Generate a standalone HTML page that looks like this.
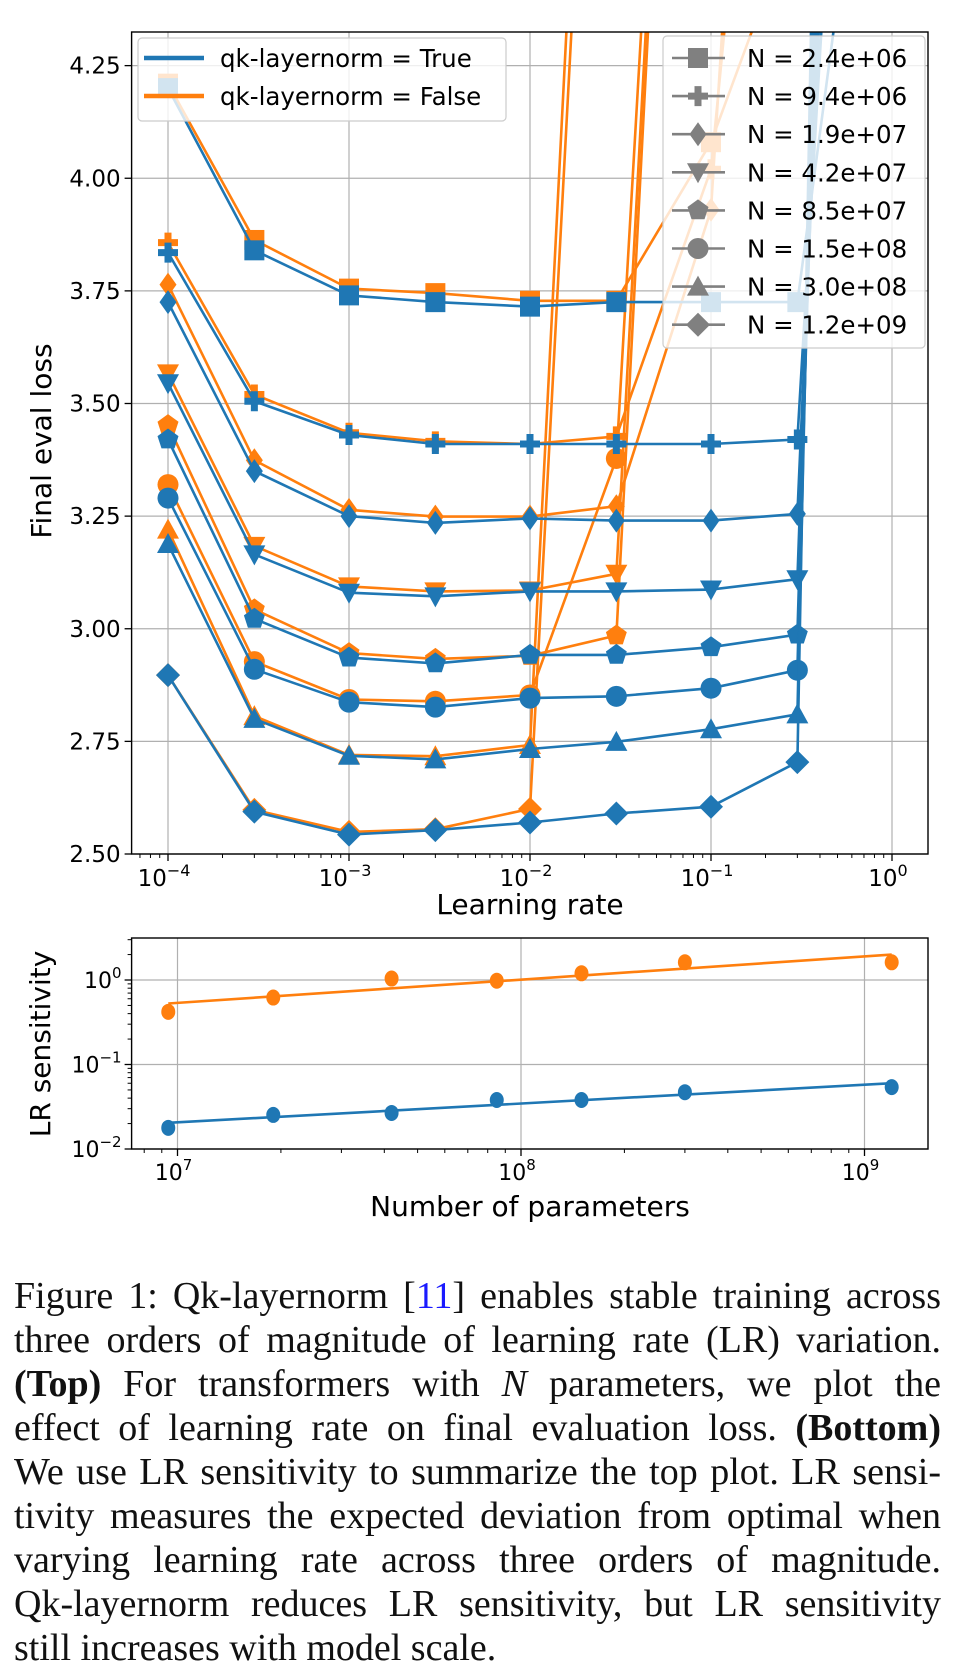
<!DOCTYPE html>
<html><head><meta charset="utf-8">
<style>
html,body{margin:0;padding:0;background:#fff;}
body{width:962px;height:1671px;position:relative;overflow:hidden;}
svg{position:absolute;left:0;top:0;}
.cap{position:absolute;left:14px;width:927px;font-family:"Liberation Serif",serif;font-size:38px;color:#111;line-height:44px;}
.cap div{text-align:justify;text-align-last:justify;white-space:nowrap;height:44px;}
.cap div.last{text-align-last:left;}
</style></head><body>
<svg id="chart" width="962" height="1671" font-family="DejaVu Sans, Liberation Sans, sans-serif"></svg>
<div class="cap" style="top:1274px">
<div>Figure 1: Qk-layernorm [<span style="color:#1a1aff">11</span>] enables stable training across</div>
<div>three orders of magnitude of learning rate (LR) variation.</div>
<div><b>(Top)</b> For transformers with <i>N</i> parameters, we plot the</div>
<div>effect of learning rate on final evaluation loss. <b>(Bottom)</b></div>
<div>We use LR sensitivity to summarize the top plot. LR sensi-</div>
<div>tivity measures the expected deviation from optimal when</div>
<div>varying learning rate across three orders of magnitude.</div>
<div>Qk-layernorm reduces LR sensitivity, but LR sensitivity</div>
<div class="last">still increases with model scale.</div>
</div>
<script>
// ---- top chart data ----
const lrs = [1e-4, 3e-4, 1e-3, 3e-3, 1e-2, 3e-2, 1e-1, 3e-1, 1];
const nLabels = ["N = 2.4e+06","N = 9.4e+06","N = 1.9e+07","N = 4.2e+07","N = 8.5e+07","N = 1.5e+08","N = 3.0e+08","N = 1.2e+09"];
const markers = ["square","plus","thindiamond","tridown","pentagon","circle","triup","diamond"];
const lossTrue = [
 [4.20,3.84,3.74,3.725,3.715,3.725,3.725,3.725,5.3],
 [3.835,3.505,3.43,3.41,3.41,3.41,3.41,3.42,7],
 [3.725,3.35,3.25,3.235,3.245,3.24,3.24,3.255,8],
 [3.545,3.165,3.08,3.072,3.083,3.083,3.087,3.11,9],
 [3.42,3.022,2.936,2.923,2.942,2.942,2.959,2.987,10],
 [3.29,2.91,2.837,2.826,2.846,2.85,2.868,2.908,11],
 [3.188,2.80,2.718,2.71,2.733,2.749,2.777,2.81,12],
 [2.897,2.594,2.543,2.553,2.57,2.59,2.605,2.704,14]
];
const lossFalse = [
 [4.21,3.863,3.755,3.745,3.728,3.728,4.08,4.6],
 [3.857,3.52,3.435,3.416,3.41,3.427,4.02,6],
 [3.764,3.374,3.264,3.249,3.249,3.272,3.93,7],
 [3.567,3.184,3.094,3.083,3.085,3.122,7,8],
 [3.452,3.043,2.946,2.933,2.94,2.985,7,8],
 [3.32,2.927,2.843,2.839,2.853,3.378,7,8],
 [3.22,2.806,2.72,2.717,2.742,6.5,8,8],
 [2.897,2.598,2.549,2.555,2.60,6.2,8,8]
];
const yTicksTop = [2.50,2.75,3.00,3.25,3.50,3.75,4.00,4.25];
const xTickExpTop = [-4,-3,-2,-1,0];
// ---- bottom chart data ----
const params = [9.4e6,1.9e7,4.2e7,8.5e7,1.5e8,3.0e8,1.2e9];
const sensFalse = [0.42,0.62,1.04,0.98,1.2,1.62,1.62];
const sensTrue = [0.0178,0.0253,0.0267,0.038,0.038,0.047,0.054];
const fitFalse = [0.527,2.0];
const fitTrue = [0.0204,0.060];
const xTickExpBot = [7,8,9];
const yTickExpBot = [-2,-1,0];

const BLUE="#1f77b4", ORANGE="#ff7f0e";
const NS="http://www.w3.org/2000/svg";
const svg=document.getElementById('chart');
function el(tag,attrs,parent){const e=document.createElementNS(NS,tag);for(const k in attrs)e.setAttribute(k,attrs[k]);(parent||svg).appendChild(e);return e;}

const T={l:131.6,r:928,t:32,b:854};
const xT=v=>168+(Math.log10(v)+4)*181;
const yT=v=>854-(v-2.5)*450.5;
const B={l:131.6,r:928,t:938,b:1149};
const xB=v=>177.5+(Math.log10(v)-7)*343.5;
const yB=v=>980-Math.log10(v)*84.5;

const defs=el('defs',{});
const c1=el('clipPath',{id:'clipT'},defs);el('rect',{x:T.l,y:T.t,width:T.r-T.l,height:T.b-T.t},c1);
const c2=el('clipPath',{id:'clipB'},defs);el('rect',{x:B.l,y:B.t,width:B.r-B.l,height:B.b-B.t},c2);

function marker(g,type,x,y,color,s){
  s=s||1;let e;
  const r=10*s;
  if(type==="square")e=el('rect',{x:x-r,y:y-r,width:2*r,height:2*r,fill:color},g);
  else if(type==="plus")e=el('path',{d:`M${x-10*s},${y-3.5*s}h${6.5*s}v${-6.5*s}h${7*s}v${6.5*s}h${6.5*s}v${7*s}h${-6.5*s}v${6.5*s}h${-7*s}v${-6.5*s}h${-6.5*s}z`,fill:color},g);
  else if(type==="thindiamond")e=el('path',{d:`M${x},${y-12*s}L${x+8.5*s},${y}L${x},${y+12*s}L${x-8.5*s},${y}Z`,fill:color},g);
  else if(type==="diamond")e=el('path',{d:`M${x},${y-12*s}L${x+12*s},${y}L${x},${y+12*s}L${x-12*s},${y}Z`,fill:color},g);
  else if(type==="tridown")e=el('path',{d:`M${x-11*s},${y-9*s}L${x+11*s},${y-9*s}L${x},${y+11*s}Z`,fill:color},g);
  else if(type==="triup")e=el('path',{d:`M${x-11*s},${y+9*s}L${x+11*s},${y+9*s}L${x},${y-11*s}Z`,fill:color},g);
  else if(type==="pentagon"){let p=[];for(let i=0;i<5;i++){const a=-Math.PI/2+i*2*Math.PI/5;p.push((x+11*s*Math.cos(a)).toFixed(1)+","+(y+11*s*Math.sin(a)).toFixed(1));}e=el('polygon',{points:p.join(" "),fill:color},g);}
  else e=el('circle',{cx:x,cy:y,r:10.5*s,fill:color},g);
  return e;
}

const gridT=el('g',{stroke:'#b0b0b0','stroke-width':1.2});
xTickExpTop.forEach(k=>el('line',{x1:xT(10**k),x2:xT(10**k),y1:T.t,y2:T.b},gridT));
yTicksTop.forEach(v=>el('line',{x1:T.l,x2:T.r,y1:yT(v),y2:yT(v)},gridT));

const seriesT=el('g',{'clip-path':'url(#clipT)',});
function drawSeries(vals,color,name,idx){
  const g=el('g',{},seriesT);
  
  
  const pts=vals.map((v,i)=>xT(lrs[i]).toFixed(1)+","+yT(v).toFixed(1));
  el('polyline',{points:pts.join(" "),fill:'none',stroke:color,'stroke-width':2.6,'stroke-linejoin':'round'},g);
  vals.forEach((v,i)=>{const m=marker(g,markers[idx],xT(lrs[i]),yT(v),color,1);
    
    });
}
lossFalse.forEach((s,i)=>drawSeries(s,ORANGE,'series-false-'+i,i));
lossTrue.forEach((s,i)=>drawSeries(s,BLUE,'series-true-'+i,i));

const axT=el('g',{});
el('rect',{x:T.l,y:T.t,width:T.r-T.l,height:T.b-T.t,fill:'none',stroke:'#000','stroke-width':1.4},axT);
yTicksTop.forEach(v=>{el('line',{x1:T.l-7,x2:T.l,y1:yT(v),y2:yT(v),stroke:'#000','stroke-width':1.3},axT);
  const t=el('text',{x:T.l-11,y:yT(v)+8,'text-anchor':'end','font-size':23},axT);t.textContent=v.toFixed(2);
  
  });
for(let k=-5;k<=0;k++)for(let m=2;m<=9;m++){const v=m*10**k;const x=xT(v);if(x>T.l&&x<T.r)el('line',{x1:x,x2:x,y1:T.b,y2:T.b+4,stroke:'#000','stroke-width':1},axT);}
xTickExpTop.forEach(k=>{const x=xT(10**k);el('line',{x1:x,x2:x,y1:T.b,y2:T.b+7,stroke:'#000','stroke-width':1.3},axT);
  const t=el('text',{x:x-4,y:T.b+32,'text-anchor':'middle','font-size':23},axT);
  
  
  t.appendChild(document.createTextNode('10'));
  const s=el('tspan',{dy:-10,'font-size':16},t);s.textContent=k===0?'0':'\u2212'+(-k);});
let lab=el('text',{x:530,y:914,'text-anchor':'middle','font-size':28,});lab.textContent='Learning rate';
lab=el('text',{x:0,y:0,'text-anchor':'middle','font-size':28,transform:'translate(51,441) rotate(-90)',});lab.textContent='Final eval loss';

const lg1=el('g',{});
el('rect',{x:138,y:38,width:368,height:83,rx:4,fill:'#fff','fill-opacity':0.8,stroke:'#ccc','stroke-width':1.2},lg1);
[["qk-layernorm = True",BLUE,58],["qk-layernorm = False",ORANGE,96]].forEach(([txt,c,y])=>{
  const g=el('g',{},lg1);
  
  
  el('line',{x1:144,x2:204,y1:y,y2:y,stroke:c,'stroke-width':4.5},g);
  const t=el('text',{x:220,y:y+9,'font-size':24.5},g);t.textContent=txt;});
const lg2=el('g',{});
el('rect',{x:663,y:36,width:262,height:312,rx:4,fill:'#fff','fill-opacity':0.8,stroke:'#ccc','stroke-width':1.2},lg2);
nLabels.forEach((txt,i)=>{const y=58+i*38.1;
  const g=el('g',{},lg2);
  
  
  el('line',{x1:672,x2:725,y1:y,y2:y,stroke:'#808080','stroke-width':2.6},g);
  marker(g,markers[i],698,y,'#808080',1);
  const t=el('text',{x:747,y:y+9,'font-size':24.5},g);t.textContent=txt;});

const gridB=el('g',{stroke:'#b0b0b0','stroke-width':1.2});
xTickExpBot.forEach(k=>el('line',{x1:xB(10**k),x2:xB(10**k),y1:B.t,y2:B.b},gridB));
yTickExpBot.forEach(k=>el('line',{x1:B.l,x2:B.r,y1:yB(10**k),y2:yB(10**k)},gridB));
const serB=el('g',{'clip-path':'url(#clipB)',});
function drawBot(vals,fit,color,name){
  const g=el('g',{},serB);
  
  
  el('line',{x1:xB(params[0]),y1:yB(fit[0]),x2:xB(params[params.length-1]),y2:yB(fit[1]),stroke:color,'stroke-width':2.6},g);
  vals.forEach((v,i)=>{const c=el('ellipse',{cx:xB(params[i]),cy:yB(v),rx:7,ry:8,fill:color},g);
    
    });
}
drawBot(sensFalse,fitFalse,ORANGE,'sensitivity-false');
drawBot(sensTrue,fitTrue,BLUE,'sensitivity-true');
const axB=el('g',{});
el('rect',{x:B.l,y:B.t,width:B.r-B.l,height:B.b-B.t,fill:'none',stroke:'#000','stroke-width':1.4},axB);
for(let k=6;k<=9;k++)for(let m=2;m<=9;m++){const v=m*10**k;const x=xB(v);if(x>B.l&&x<B.r)el('line',{x1:x,x2:x,y1:B.b,y2:B.b+4,stroke:'#000','stroke-width':1},axB);
  const y=yB(m*10**(k-9));if(y>B.t&&y<B.b)el('line',{x1:B.l-4,x2:B.l,y1:y,y2:y,stroke:'#000','stroke-width':1},axB);}
xTickExpBot.forEach(k=>{const x=xB(10**k);el('line',{x1:x,x2:x,y1:B.b,y2:B.b+7,stroke:'#000','stroke-width':1.3},axB);
  const t=el('text',{x:x-4,y:B.b+31,'text-anchor':'middle','font-size':22},axB);
  
  
  t.appendChild(document.createTextNode('10'));
  const s=el('tspan',{dy:-10,'font-size':15},t);s.textContent=String(k);});
yTickExpBot.forEach(k=>{const y=yB(10**k);el('line',{x1:B.l-7,x2:B.l,y1:y,y2:y,stroke:'#000','stroke-width':1.3},axB);
  const t=el('text',{x:B.l-10,y:y+8,'text-anchor':'end','font-size':22},axB);
  
  
  t.appendChild(document.createTextNode('10'));
  const s=el('tspan',{dy:-10,'font-size':15},t);s.textContent=k===0?'0':'\u2212'+(-k);});
lab=el('text',{x:530,y:1216,'text-anchor':'middle','font-size':28,});lab.textContent='Number of parameters';
lab=el('text',{x:0,y:0,'text-anchor':'middle','font-size':28,transform:'translate(50,1044) rotate(-90)',});lab.textContent='LR sensitivity';
</script>
</body></html>
